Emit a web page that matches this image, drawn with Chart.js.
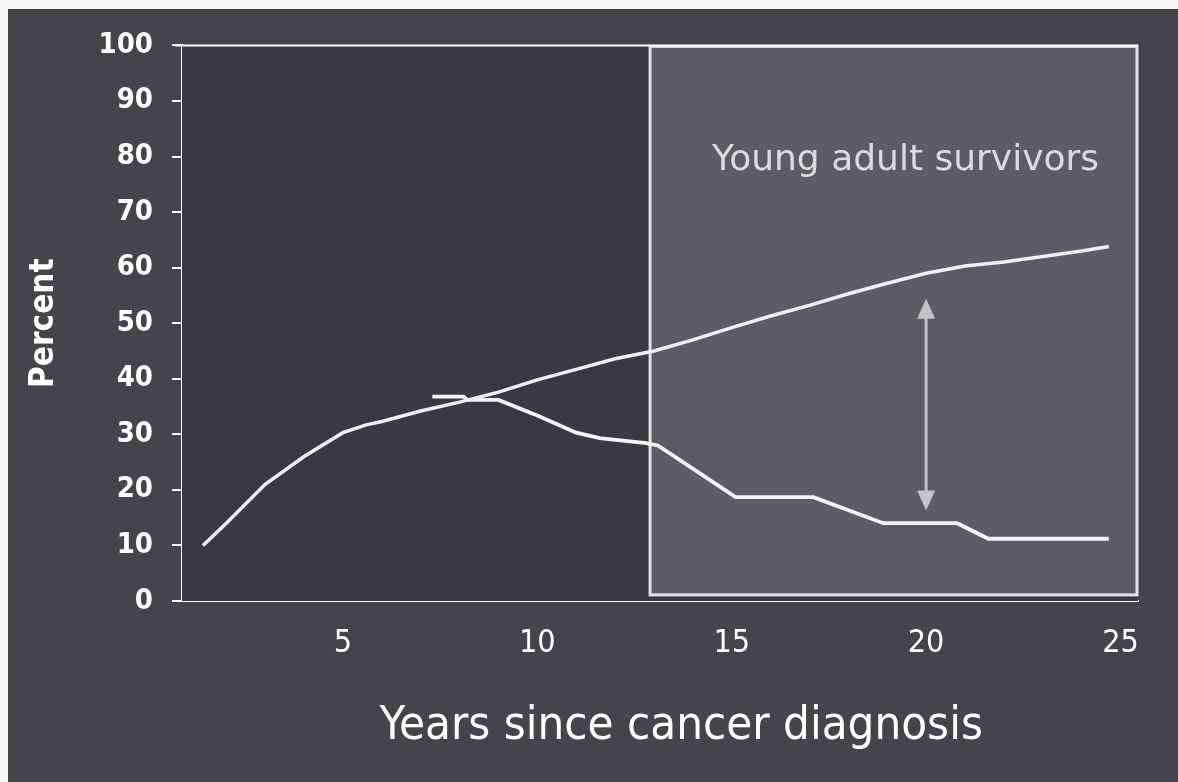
<!DOCTYPE html>
<html>
<head>
<meta charset="utf-8">
<script src="https://cdn.jsdelivr.net/npm/chart.js@4.4.1/dist/chart.umd.min.js"></script>
<style>
  html, body { margin: 0; background: #f6f6f6; }
  #wrap { position: absolute; left: 8px; top: 9px; width: 1170px; height: 773px; background: #434548; }
</style>
</head>
<body>
<div id="wrap"><canvas id="chart"></canvas></div>
<script>
// tick positions
const xTicks = [5, 10, 15, 20, 25];
const yTicks = [0, 10, 20, 30, 40, 50, 60, 70, 80, 90, 100];

// rising curve
const risingYears = [1.4, 2, 3, 4, 5, 5.6, 6, 7, 8, 9, 10, 11, 12, 13, 14, 15, 16, 17, 18, 19, 20, 21, 22, 23, 24, 24.7];
const risingPct = [10, 14, 21, 26, 30.3, 31.7, 32.3, 34.2, 35.8, 37.6, 39.8, 41.7, 43.6, 45, 47, 49.2, 51.3, 53.2, 55.3, 57.2, 59, 60.3, 61, 62, 63, 63.8];

// falling curve
const fallingYears = [7.3, 8.1, 8.2, 9.0, 10, 11, 11.6, 12.8, 13.1, 15.1, 17.1, 18.9, 20.8, 21.6, 24.7];
const fallingPct = [36.8, 36.8, 36.2, 36.2, 33.4, 30.3, 29.3, 28.4, 28.0, 18.7, 18.7, 14, 14, 11.2, 11.2];

// shaded "young adult" window and the gap arrow
const boxFrom = 12.9;
const boxLabel = 'Young adult survivors';
const xTitle = 'Years since cancer diagnosis';
const arrowYear = 20;
const arrowFrom = 16.3;
const arrowTo = 54.4;

const toPoints = (xs, ys) => xs.map((x, i) => ({ x: x, y: ys[i] }));

const condensed = "'DejaVu Sans Condensed', 'DejaVu Sans', sans-serif";

const decor = {
    id: 'decor',
    beforeDatasetsDraw(chart) {
        const { ctx, chartArea: a, scales: { x, y } } = chart;
        ctx.save();
        ctx.fillStyle = '#383a3d';
        ctx.fillRect(a.left, a.top, a.right - a.left, a.bottom - a.top);

        // highlighted window
        const bx = x.getPixelForValue(boxFrom);
        const by = y.getPixelForValue(100);
        const bb = y.getPixelForValue(1.1);
        ctx.fillStyle = '#5b5d61';
        ctx.fillRect(bx, by, a.right - bx, bb - by);
        ctx.strokeStyle = '#e4e4e4';
        ctx.lineWidth = 3;
        ctx.strokeRect(bx, by + 1, a.right - bx - 1, bb - by - 1);

        // top border of plot
        ctx.strokeStyle = '#ffffff';
        ctx.lineWidth = 2;
        ctx.beginPath();
        ctx.moveTo(a.left - 7, a.top);
        ctx.lineTo(a.right, a.top);
        ctx.stroke();
        ctx.restore();
    },
    afterDatasetsDraw(chart) {
        const { ctx, scales: { x, y } } = chart;
        ctx.save();
        const ax = x.getPixelForValue(arrowYear);
        const top = y.getPixelForValue(arrowTo);
        const bot = y.getPixelForValue(arrowFrom);
        ctx.strokeStyle = '#c4c4c4';
        ctx.fillStyle = '#c4c4c4';
        ctx.lineWidth = 3;
        ctx.beginPath();
        ctx.moveTo(ax, top + 14);
        ctx.lineTo(ax, bot - 14);
        ctx.stroke();
        ctx.beginPath();
        ctx.moveTo(ax, top);
        ctx.lineTo(ax - 9, top + 20);
        ctx.lineTo(ax + 9, top + 20);
        ctx.closePath();
        ctx.fill();
        ctx.beginPath();
        ctx.moveTo(ax, bot);
        ctx.lineTo(ax - 9, bot - 20);
        ctx.lineTo(ax + 9, bot - 20);
        ctx.closePath();
        ctx.fill();

        ctx.fillStyle = '#dcdcdc';
        ctx.font = "36px 'DejaVu Sans', sans-serif";
        ctx.textAlign = 'center';
        ctx.textBaseline = 'middle';
        ctx.fillText(boxLabel, x.getPixelForValue(19.47), y.getPixelForValue(79.2));

        // x axis title
        ctx.fillStyle = '#ffffff';
        ctx.font = "47px " + condensed;
        ctx.fillText(xTitle, x.getPixelForValue(13.7), 718);
        ctx.restore();
    }
};

new Chart(document.getElementById('chart'), {
    type: 'line',
    data: {
        datasets: [{
            data: toPoints(risingYears, risingPct),
            borderColor: '#f0f0f0',
            borderWidth: 3.5,
            pointRadius: 0,
            tension: 0
        }, {
            data: toPoints(fallingYears, fallingPct),
            borderColor: '#f4f4f4',
            borderWidth: 3.8,
            pointRadius: 0,
            tension: 0
        }]
    },
    options: {
        responsive: true,
        maintainAspectRatio: false,
        animation: false,
        events: [],
        layout: { padding: { top: 35, right: 40, left: 0, bottom: 0 } },
        plugins: { legend: { display: false }, tooltip: { enabled: false } },
        scales: {
            x: {
                type: 'linear',
                min: 0.86,
                max: 25.45,
                afterBuildTicks: (s) => { s.ticks = xTicks.map(v => ({ value: v })); },
                afterFit: (s) => { s.height = 181; },
                grid: { display: false, drawTicks: false, tickLength: 0 },
                border: { display: true, color: '#ffffff', width: 2 },
                ticks: { color: '#ffffff', padding: 23, maxRotation: 0, font: { family: condensed, size: 32 } },
                title: { display: false }
            },
            y: {
                min: 0,
                max: 100,
                afterBuildTicks: (s) => { s.ticks = yTicks.map(v => ({ value: v })); },
                afterFit: (s) => { s.width = 174; },
                grid: { drawOnChartArea: false, color: '#ffffff', tickColor: '#ffffff', lineWidth: 2, tickLength: 10 },
                border: { display: true, color: '#ffffff', width: 2 },
                ticks: { color: '#ffffff', padding: 19, font: { family: condensed, size: 29, weight: 'bold' } },
                title: { display: true, text: 'Percent', color: '#ffffff',
                         font: { family: condensed, size: 33, weight: 'bold' }, padding: { top: 17, bottom: 0 } }
            }
        }
    },
    plugins: [decor]
});
</script>
</body>
</html>
